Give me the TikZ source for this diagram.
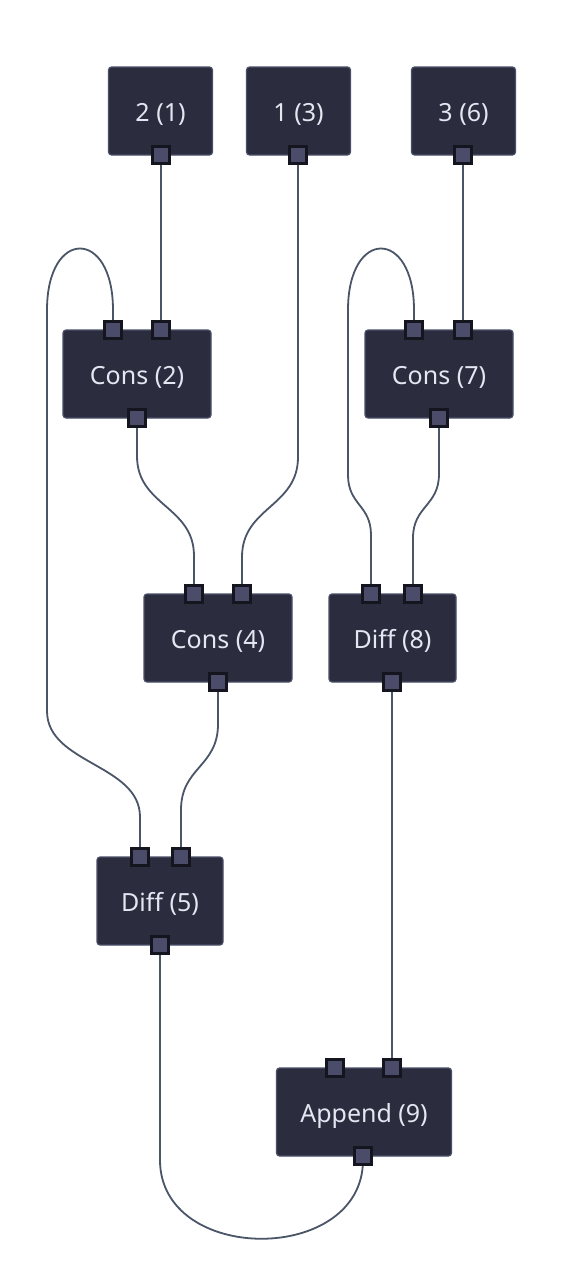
\documentclass[tikz,border=0pt]{standalone}
\usepackage{fontspec}
\setmainfont{Noto Sans}
\pgfdeclarelayer{bg}
\pgfdeclarelayer{wires}
\pgfsetlayers{bg,wires,main}
\definecolor{boxfill}{HTML}{2B2D3E}
\definecolor{boxline}{HTML}{4A5068}
\definecolor{portfill}{HTML}{4A4C6A}
\definecolor{portline}{HTML}{14151E}
\definecolor{wirecol}{HTML}{4A5568}
\definecolor{textcol}{HTML}{E4E6F2}
\tikzset{
  opbox/.style={draw=boxline, line width=1.2pt, fill=boxfill, rounded corners=3pt,
    minimum height=88pt, inner sep=0pt, text=textcol, text height=20pt, text depth=0pt,
    font=\fontsize{25}{28}\selectfont},
  port/.style={draw=portline, line width=2.6pt, fill=portfill, minimum size=17.5pt, inner sep=0pt},
  wire/.style={draw=wirecol, line width=1.8pt}
}
\begin{document}
\begin{tikzpicture}[x=1pt,y=-1pt]
\begin{pgfonlayer}{bg}
\fill[white] (0,0) rectangle (565,1280);
\end{pgfonlayer}
\useasboundingbox (0,0) rectangle (565,1280);
% boxes
\node[opbox, minimum width=104pt] (n1) at (160.5,111) {2 (1)};
\node[opbox, minimum width=104pt] (n3) at (298.5,111) {1 (3)};
\node[opbox, minimum width=104pt] (n6) at (463.5,111) {3 (6)};
\node[opbox, minimum width=148pt] (n2) at (137,374) {Cons (2)};
\node[opbox, minimum width=148pt] (n7) at (439,374) {Cons (7)};
\node[opbox, minimum width=148pt] (n4) at (218,638) {Cons (4)};
\node[opbox, minimum width=127pt] (n8) at (392.5,638) {Diff (8)};
\node[opbox, minimum width=126pt] (n5) at (160,901) {Diff (5)};
\node[opbox, minimum width=175pt] (n9) at (364,1112) {Append (9)};
% ports
\node[port] (n1o) at (161,155) {};
\node[port] (n3o) at (298,155) {};
\node[port] (n6o) at (463,155) {};
\node[port] (n2a) at (113,330) {};
\node[port] (n2b) at (161,330) {};
\node[port] (n2o) at (137,418) {};
\node[port] (n7a) at (414,330) {};
\node[port] (n7b) at (463,330) {};
\node[port] (n7o) at (439,418) {};
\node[port] (n4a) at (194,594) {};
\node[port] (n4b) at (242,594) {};
\node[port] (n4o) at (218,682) {};
\node[port] (n8a) at (371,594) {};
\node[port] (n8b) at (413,594) {};
\node[port] (n8o) at (392,682) {};
\node[port] (n5a) at (140,857) {};
\node[port] (n5b) at (181,857) {};
\node[port] (n5o) at (160,945) {};
\node[port] (n9a) at (335,1068) {};
\node[port] (n9b) at (392,1068) {};
\node[port] (n9o) at (363,1156) {};
\coordinate (k2) at (47,0);
\coordinate (k7) at (348,0);
\begin{pgfonlayer}{wires}
\draw[wire] (n1o.center) -- (n2b.center);
\draw[wire] (n6o.center) -- (n7b.center);
\draw[wire] (n8o.center) -- (n9b.center);
\draw[wire] (n3o.center) -- (n3o |- 0,457) .. controls (n3o |- 0,507) and (n4b |- 0,507) .. (n4b |- 0,557) -- (n4b.center);
\draw[wire] (n2o.center) -- (n2o |- 0,456) .. controls (n2o |- 0,506) and (n4a |- 0,506) .. (n4a |- 0,556) -- (n4a.center);
\draw[wire] (n7o.center) -- (n7o |- 0,474) .. controls (n7o |- 0,506) and (n8b |- 0,506) .. (n8b |- 0,538) -- (n8b.center);
\draw[wire] (n7a.center) -- (n7a |- 0,310) .. controls (n7a |- 0,228) and (k7 |- 0,228) .. (k7 |- 0,310)
  -- (k7 |- 0,475) .. controls (k7 |- 0,505) and (n8a |- 0,505) .. (n8a |- 0,535) -- (n8a.center);
\draw[wire] (n2a.center) -- (n2a |- 0,310) .. controls (n2a |- 0,228) and (k2 |- 0,228) .. (k2 |- 0,310)
  -- (k2 |- 0,711) .. controls (k2 |- 0,764) and (n5a |- 0,764) .. (n5a |- 0,817) -- (n5a.center);
\draw[wire] (n4o.center) -- (n4o |- 0,724) .. controls (n4o |- 0,767) and (n5b |- 0,767) .. (n5b |- 0,810) -- (n5b.center);
\draw[wire] (n5o.center) -- (n5o |- 0,1160) .. controls (n5o |- 0,1265) and (n9o |- 0,1265) .. (n9o |- 0,1160) -- (n9o.center);
\end{pgfonlayer}
\end{tikzpicture}
\end{document}
